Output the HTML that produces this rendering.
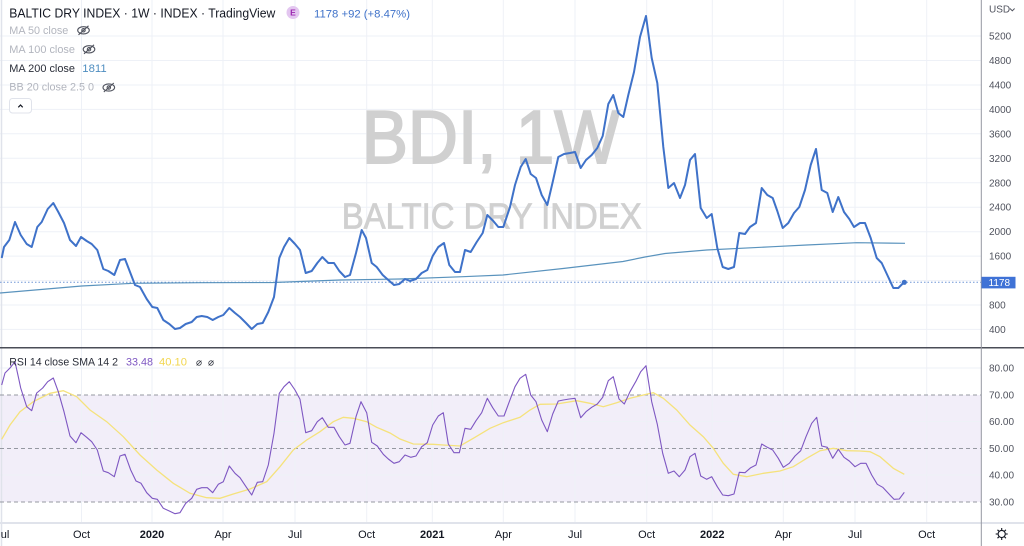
<!DOCTYPE html>
<html><head><meta charset="utf-8"><style>
html,body{margin:0;padding:0;background:#fff;}
svg{display:block;font-family:"Liberation Sans",Arial,sans-serif;}
</style></head><body>
<svg width="1024" height="546" viewBox="0 0 1024 546" xmlns="http://www.w3.org/2000/svg">
<rect width="1024" height="546" fill="#fff"/>
<!-- RSI band -->
<rect x="0" y="395" width="981" height="107" fill="#f2eef9"/>
<!-- grid -->
<g stroke="#eef1f7" stroke-width="1">
<line x1="0" y1="36" x2="981" y2="36"/><line x1="0" y1="60.5" x2="981" y2="60.5"/><line x1="0" y1="85" x2="981" y2="85"/><line x1="0" y1="109.4" x2="981" y2="109.4"/><line x1="0" y1="133.8" x2="981" y2="133.8"/><line x1="0" y1="158.3" x2="981" y2="158.3"/><line x1="0" y1="182.8" x2="981" y2="182.8"/><line x1="0" y1="207.2" x2="981" y2="207.2"/><line x1="0" y1="231.7" x2="981" y2="231.7"/><line x1="0" y1="256.1" x2="981" y2="256.1"/><line x1="0" y1="280.6" x2="981" y2="280.6"/><line x1="0" y1="305" x2="981" y2="305"/><line x1="0" y1="329.4" x2="981" y2="329.4"/>
<line x1="0" y1="368" x2="981" y2="368"/><line x1="0" y1="421.5" x2="981" y2="421.5"/><line x1="0" y1="475" x2="981" y2="475"/>
</g>
<g stroke="#eef1f7" stroke-width="1">
<line x1="81.5" y1="0" x2="81.5" y2="522"/><line x1="152" y1="0" x2="152" y2="522"/><line x1="223" y1="0" x2="223" y2="522"/><line x1="295" y1="0" x2="295" y2="522"/><line x1="366.7" y1="0" x2="366.7" y2="522"/><line x1="432.3" y1="0" x2="432.3" y2="522"/><line x1="503.3" y1="0" x2="503.3" y2="522"/><line x1="575" y1="0" x2="575" y2="522"/><line x1="646.7" y1="0" x2="646.7" y2="522"/><line x1="712.3" y1="0" x2="712.3" y2="522"/><line x1="783.3" y1="0" x2="783.3" y2="522"/><line x1="855" y1="0" x2="855" y2="522"/><line x1="926.7" y1="0" x2="926.7" y2="522"/>
</g>
<line x1="1.5" y1="0" x2="1.5" y2="546" stroke="#e0e3eb" stroke-width="1.5"/>
<!-- RSI dashed lines -->
<g stroke="#9598a1" stroke-width="1" stroke-dasharray="4 3">
<line x1="0" y1="395" x2="981" y2="395"/><line x1="0" y1="448.5" x2="981" y2="448.5"/><line x1="0" y1="502" x2="981" y2="502"/>
</g>
<!-- watermark -->
<text x="361.7" y="163" font-size="75" fill="#d0d0d0" stroke="#d0d0d0" stroke-width="2" textLength="258" lengthAdjust="spacingAndGlyphs">BDI, 1W</text>
<text x="341.7" y="228.5" font-size="36" fill="#d0d0d0" stroke="#d0d0d0" stroke-width="0.8" textLength="300" lengthAdjust="spacingAndGlyphs">BALTIC DRY INDEX</text>
<!-- last price dotted -->
<line x1="0" y1="282.3" x2="981" y2="282.3" stroke="#6f95d6" stroke-width="1" stroke-dasharray="1.5 2"/>
<!-- MA 200 -->
<polyline fill="none" stroke="#5a93bd" stroke-width="1.2" points="0,293 81.7,286 133,283.3 200,282.7 273,282.5 340,280 400,279 463,276.7 503,275 563,268.5 623,261.5 645,257 665,253.5 706.7,250 773,246.7 806.7,245 856.7,242.7 905,243.3"/>
<!-- price -->
<polyline fill="none" stroke="#3f72c9" stroke-width="2" stroke-linejoin="round" points="1.7,258 4,247 9.3,240 15,222 20.7,235 26.7,244 31.7,247 37.3,227 41.7,222 47.7,209 53.3,203 58.3,212 64,223 70,240 76,246 81,237 86.7,241 91.7,244 97.3,250 103.3,269 108.3,271 114.3,275 120,260 125,259 130,272 135,285 140,287 146.7,299 152.3,307 157.3,308 163.3,320 169.3,324 175,329 180,328 185.7,324 191.7,322 196.7,317 201.7,316 207.3,317 212.7,320 218.3,317 223.3,315 229.3,308 235,313 240,317 246,323 251.7,329 257.3,324 262.7,323 268.3,312 274,297 279.3,258 284,247 289.3,238 295,244 300,250 305.7,273 311.7,271 317.3,263 322.3,257 328.3,263 334,263 339.3,271 345,277 350,275 356,253 361.7,230 366,238 371.7,263 376.7,267 382.7,275 388.3,280 394,285 399.3,284 405,279 410,281 416,279 421.7,273 427.3,270 432.7,256 438.3,247 444,243 449.3,265 455,272 460,272 465,250 470.7,252 476.7,242 482.7,233 487.3,215 493.3,221 498.3,227 503.3,227 510,207 515,185 520.7,167 525.7,159 530.7,174 536,178 541.7,195 547.3,205 552.7,182 558.3,157 564,154 570,153 575,152 580.7,168 586,160 591.7,155 597.3,148 602.7,136 608.3,104 613.3,95 618.3,113 623.3,117 628.3,95 634,72 640,37 646,16 651.7,58 657.3,83 663.3,147 668.3,188 674,183 680,198 685,185 690,160 695,154 700.7,208 706.7,218 711.7,214 717.3,248 722.7,267 728.3,269 734,267 739.3,233 745,234 750,227 756,223 761.7,188 767.3,195 772.7,198 777.3,211 782.7,228 788.3,223 794,213 799.3,207 805,190 810.7,165 816,149 821.7,190 827.3,193 832.7,212 838.3,197 844,212 849.3,219 854,227 860,223 865,223 870.7,238 876.7,258 881.7,263 887.3,275 893.3,288 898.3,288 904.3,282"/>
<circle cx="904.3" cy="282.3" r="2.6" fill="#3f72c9"/>
<!-- RSI SMA -->
<polyline fill="none" stroke="#f5e27c" stroke-width="1.3" points="1.7,439.3 10,425 20,411.7 33.3,401.7 50,393.3 63.3,390.7 76.7,396.7 90,410 106.7,421.7 123.3,436.7 140,455 156.7,470 173.3,483.3 190,493.3 206.7,497.7 220,498.3 233.3,494 250,489 266.7,481.7 280,466.7 293.3,450 306.7,440 320,431.7 333.3,421.7 343.3,417.3 353.3,418.3 366.7,421.7 376.7,427.3 390,433 400,439 413.3,444 433.3,444.3 443.3,445 460,446 473.3,438.3 490,428.3 503.3,422.7 520,417.3 530,410 540,404.3 556.7,404 576.7,400.7 590,403.3 603.3,406.7 616.7,402.7 630,398.3 643.3,395 653.3,392.7 663.3,398.3 676.7,410 690,425 703.3,436.7 713.3,448.3 723.3,463.3 733.3,474.3 746.7,476.7 763.3,473.3 780,471 793.3,466.7 806.7,458.3 820,450.7 833.3,448.3 846.7,450.7 860,451 870,451.7 880,456.7 893.3,468.3 904.3,474.3"/>
<!-- RSI -->
<polyline fill="none" stroke="#7e57c2" stroke-width="1.1" stroke-linejoin="round" points="1.7,385 5,373 10,368 15,361.7 18.3,376.7 20.7,388 26.7,406.7 31.7,410.7 36.7,393 42.7,388 47.7,381.7 53.3,378 58.3,391.7 64,411.7 70,436 76,442.7 81,432.7 86.7,437.3 91.7,441.7 97.3,450 103.3,471 108.3,472.7 114.3,476.7 120,456 125,454.3 130.7,470 136,481 141,483.3 146.7,492.7 152.3,498.3 157.3,499.3 163.3,508.3 169.3,511 175,513.7 180,512.7 185.7,503.3 191.7,498.3 196.7,489.3 201.7,487.7 207.3,487.7 212.7,492.7 218.3,484.3 223.3,481.7 229.3,466 235,473.3 240,477.7 246,486.7 251.7,495 257.3,482.3 262.7,481.7 268.3,465 274,433.3 279.3,393.3 284,386.7 289.3,381.7 295,390 300,399.3 305.7,432.7 311.7,430.7 317.3,421.7 322.3,417.7 328.3,427.3 334,427.3 339.3,436.7 345,445 350,443.3 356,416.7 361,401.7 366.7,412.7 371.7,442.3 377.3,446 383.3,454.3 388.3,459 394,463.3 399.3,461.7 405,455 410.7,457.3 416,456 421.7,446.7 427.3,442.7 432.7,425 438.3,416 443.3,412.7 448.3,444 454,452.7 459.3,452.7 465,428.3 470.7,429.3 476,420.7 481.7,412.7 487.3,398.3 492.7,407.7 498.3,416 504,416 509.3,401.7 515,386.7 520,378.3 525.7,374.3 530.7,395 536,401.7 541.7,420 547.3,431.7 552.7,414 558.3,401 563.3,400 569.3,399 575,398.3 580.7,417.7 586,411.7 591.7,407.3 597.3,404 602.7,397.3 608.3,380.7 613.3,376.7 619,399 624.3,404 630,391.7 635.7,381.7 640.7,371.7 646,365.7 651.7,401.7 657.3,424.3 662.7,453.3 668.3,473.3 674,471 679.3,476.7 685,470 690,456.7 695,453.3 700.7,476 706.7,479.3 711.7,476.7 717.3,486.7 722.7,495 728.3,495.7 734,494 739.3,472.3 745,472.7 750.7,467.7 756,465 761.7,444 767.3,447.3 772.7,450 778.3,458.3 783.3,467.3 789.3,463.3 795,456 800.7,450.7 806,436.7 811.7,423.3 816.7,417.3 821.7,446 827.3,447.3 832.7,458.3 838.3,449.3 844,457.3 849.3,461 855,466.7 860.7,463.3 866,463.3 871.7,475 877.3,484.3 882.7,487.3 888.3,493.3 894,499.3 899.3,499 904.3,492.3"/>
<!-- pane separators -->
<line x1="0" y1="347.8" x2="1024" y2="347.8" stroke="#4a4d57" stroke-width="1.5"/>
<line x1="0" y1="523" x2="1024" y2="523" stroke="#e0e3eb" stroke-width="2"/>
<line x1="981.3" y1="0" x2="981.3" y2="546" stroke="#9598a1" stroke-width="1"/>
<!-- legend -->
<text x="9.3" y="17.3" font-size="13" fill="#131722" textLength="266" lengthAdjust="spacingAndGlyphs">BALTIC DRY INDEX · 1W · INDEX · TradingView</text>
<circle cx="293" cy="12.5" r="6.5" fill="#e3c6f0"/>
<text x="293" y="15.6" font-size="8.5" font-weight="bold" fill="#9c27b0" text-anchor="middle">E</text>
<text x="314" y="17.3" font-size="11" fill="#3f72c9" textLength="96" lengthAdjust="spacingAndGlyphs">1178  +92 (+8.47%)</text>
<g font-size="11">
<text x="9.3" y="34" fill="#b2b5be" textLength="59" lengthAdjust="spacingAndGlyphs">MA 50 close</text>
<text x="9.3" y="53" fill="#b2b5be" textLength="65.7" lengthAdjust="spacingAndGlyphs">MA 100 close</text>
<text x="9.3" y="72" fill="#2a2e39" textLength="65.7" lengthAdjust="spacingAndGlyphs">MA 200 close</text>
<text x="82.3" y="72" fill="#4f8ec0" textLength="24.4" lengthAdjust="spacingAndGlyphs">1811</text>
<text x="9.3" y="90.7" fill="#b2b5be" textLength="84.7" lengthAdjust="spacingAndGlyphs">BB 20 close 2.5 0</text>
</g>
<!-- eye-crossed icons -->
<g fill="none" stroke="#50535e" stroke-width="1.1">
<g transform="translate(83.5,30.3)"><ellipse rx="5.8" ry="3.6"/><circle r="1.7"/><line x1="-5" y1="4.5" x2="5" y2="-4.5"/></g>
<g transform="translate(89,49.3)"><ellipse rx="5.8" ry="3.6"/><circle r="1.7"/><line x1="-5" y1="4.5" x2="5" y2="-4.5"/></g>
<g transform="translate(108.8,87.5)"><ellipse rx="5.8" ry="3.6"/><circle r="1.7"/><line x1="-5" y1="4.5" x2="5" y2="-4.5"/></g>
</g>
<rect x="9.5" y="98.5" width="22" height="14.5" rx="3" fill="#fff" stroke="#e0e3eb" stroke-width="1"/>
<polyline points="18.3,107.3 20.5,105 22.7,107.3" fill="none" stroke="#131722" stroke-width="1.2"/>
<!-- RSI legend -->
<text x="9.3" y="365.5" font-size="11" fill="#2a2e39" textLength="108.7" lengthAdjust="spacingAndGlyphs">RSI 14 close SMA 14 2</text>
<text x="126" y="365.5" font-size="11" fill="#7e57c2" textLength="27" lengthAdjust="spacingAndGlyphs">33.48</text>
<text x="159" y="365.5" font-size="11" fill="#f2d64e" textLength="28" lengthAdjust="spacingAndGlyphs">40.10</text>
<text x="196" y="365.5" font-size="10" fill="#2a2e39">⌀</text>
<text x="208" y="365.5" font-size="10" fill="#2a2e39">⌀</text>
<!-- price axis -->
<g font-size="10" fill="#50535e">
<text x="989" y="12.5">USD</text>
<polyline points="1010,8.5 1012.3,10.8 1014.6,8.5" fill="none" stroke="#50535e" stroke-width="1"/>
<text x="989" y="39.5">5200</text><text x="989" y="64">4800</text><text x="989" y="88.5">4400</text><text x="989" y="112.9">4000</text><text x="989" y="137.3">3600</text><text x="989" y="161.8">3200</text><text x="989" y="186.3">2800</text><text x="989" y="210.7">2400</text><text x="989" y="235.2">2000</text><text x="989" y="259.6">1600</text><text x="989" y="308.5">800</text><text x="989" y="332.9">400</text>
<text x="989" y="371.5">80.00</text><text x="989" y="398.5">70.00</text><text x="989" y="425">60.00</text><text x="989" y="452">50.00</text><text x="989" y="478.5">40.00</text><text x="989" y="505.5">30.00</text>
</g>
<rect x="981.5" y="276.8" width="34" height="11.6" fill="#3f72d6"/>
<text x="988.5" y="286.2" font-size="10" fill="#fff">1178</text>
<!-- gear -->
<g transform="translate(1001.7,534)" stroke="#131722" stroke-width="1.1" fill="none">
<circle r="3.6"/>
<line x1="0" y1="-4" x2="0" y2="-6"/><line x1="0" y1="4" x2="0" y2="6"/><line x1="-4" y1="0" x2="-6" y2="0"/><line x1="4" y1="0" x2="6" y2="0"/>
<line x1="2.8" y1="2.8" x2="4.2" y2="4.2"/><line x1="-2.8" y1="-2.8" x2="-4.2" y2="-4.2"/><line x1="2.8" y1="-2.8" x2="4.2" y2="-4.2"/><line x1="-2.8" y1="2.8" x2="-4.2" y2="4.2"/>
</g>
<!-- time axis -->
<g font-size="11" fill="#131722" text-anchor="middle">
<text x="5" y="538">ul</text>
<text x="81.5" y="538">Oct</text>
<text x="152" y="538" font-weight="bold">2020</text>
<text x="223" y="538">Apr</text>
<text x="295" y="538">Jul</text>
<text x="366.7" y="538">Oct</text>
<text x="432.3" y="538" font-weight="bold">2021</text>
<text x="503.3" y="538">Apr</text>
<text x="575" y="538">Jul</text>
<text x="646.7" y="538">Oct</text>
<text x="712.3" y="538" font-weight="bold">2022</text>
<text x="783.3" y="538">Apr</text>
<text x="855" y="538">Jul</text>
<text x="926.7" y="538">Oct</text>
</g>
</svg>
</body></html>
